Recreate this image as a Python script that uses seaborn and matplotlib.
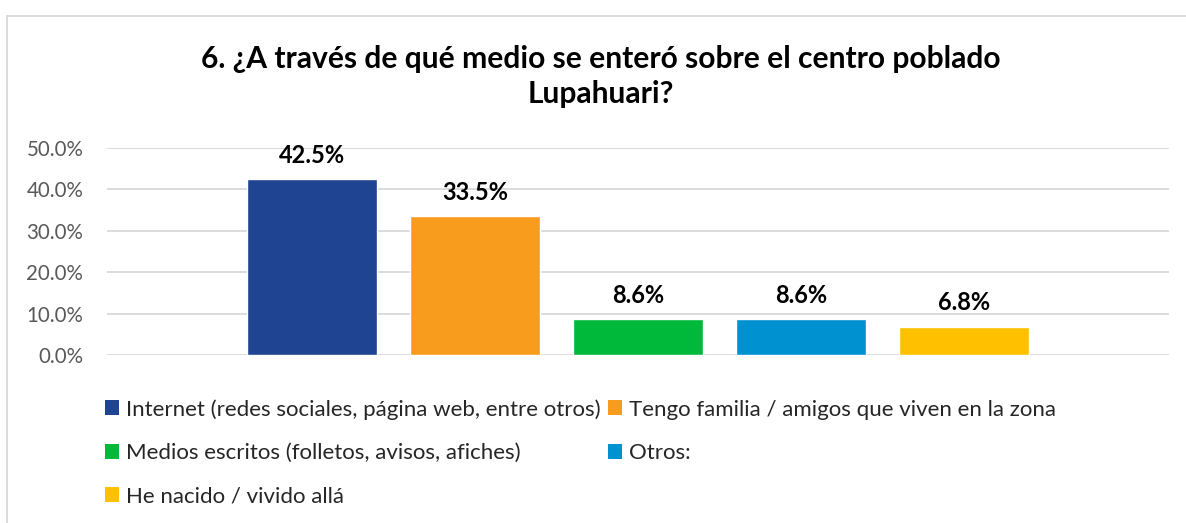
import matplotlib
matplotlib.use('Agg')
import matplotlib.pyplot as plt
from matplotlib.patches import Patch
from matplotlib.lines import Line2D
import seaborn as sns

# Survey answers (share of respondents)
categories = [
    'Internet (redes sociales, página web, entre otros)',
    'Tengo familia / amigos que viven en la zona',
    'Medios escritos (folletos, avisos, afiches)',
    'Otros:',
    'He nacido / vivido allá',
]
values = [0.425, 0.335, 0.086, 0.086, 0.068]
colors = ['#1F4491', '#F89C1E', '#00B93A', '#0091D1', '#FFC000']
yticks = [0.0, 0.1, 0.2, 0.3, 0.4, 0.5]

sns.set_style('white')
plt.rcParams['font.family'] = ['Lato', 'DejaVu Sans']

fig = plt.figure(figsize=(11.86, 5.23), dpi=100)
ax = fig.add_axes([0.0902, 0.3212, 0.8955, 0.3958])

sns.barplot(x=categories, y=values, hue=categories, palette=colors,
            width=0.8, legend=False, saturation=1, ax=ax)

ax.set_xlim(-1.258, 5.258)
ax.set_ylim(0, 0.5)
ax.set_yticks(yticks)
ax.set_yticklabels([f'{t * 100:.1f}%' for t in yticks], color='#595959', fontsize=14.8)
ax.set_xticks([])
ax.set_xlabel(None)
ax.set_ylabel(None)
ax.tick_params(axis='y', length=0, pad=17)
ax.grid(axis='y', color='#D9D9D9', linewidth=1.3)
ax.set_axisbelow(True)
sns.despine(ax=ax, left=True, bottom=True, top=True, right=True)

# value labels above bars
for i, v in enumerate(values):
    ax.annotate(f'{v * 100:.1f}%', (i, v), xytext=(0, 9), textcoords='offset points',
                ha='center', va='bottom', fontsize=17, fontweight='bold', color='black')

fig.text(0.507, 0.853, '6. ¿A través de qué medio se enteró sobre el centro poblado\nLupahuari?',
         ha='center', va='center', fontsize=21.6, fontweight='bold', color='black',
         linespacing=1.3)

# legend, filled column-wise so rows read like the original
order = [0, 2, 4, 1, 3]
handles = [Patch(facecolor=colors[i], edgecolor='none') for i in order]
labels = [categories[i] for i in order]
fig.legend(handles, labels, ncol=2, loc='upper left', bbox_to_anchor=(0.0885, 0.237),
           frameon=False, fontsize=16, handlelength=0.64, handleheight=0.64,
           handletextpad=0.32, labelspacing=1.05, columnspacing=0.3,
           borderaxespad=0, borderpad=0)

# chart area border (top and left edges visible)
fig.add_artist(Line2D([7 / 1186, 1.0], [1 - 16 / 523] * 2, color='#D9D9D9', lw=1.3,
                      transform=fig.transFigure))
fig.add_artist(Line2D([7 / 1186] * 2, [0.0, 1 - 16 / 523], color='#D9D9D9', lw=1.3,
                      transform=fig.transFigure))

fig.savefig('out.png', dpi=100, facecolor='white')
